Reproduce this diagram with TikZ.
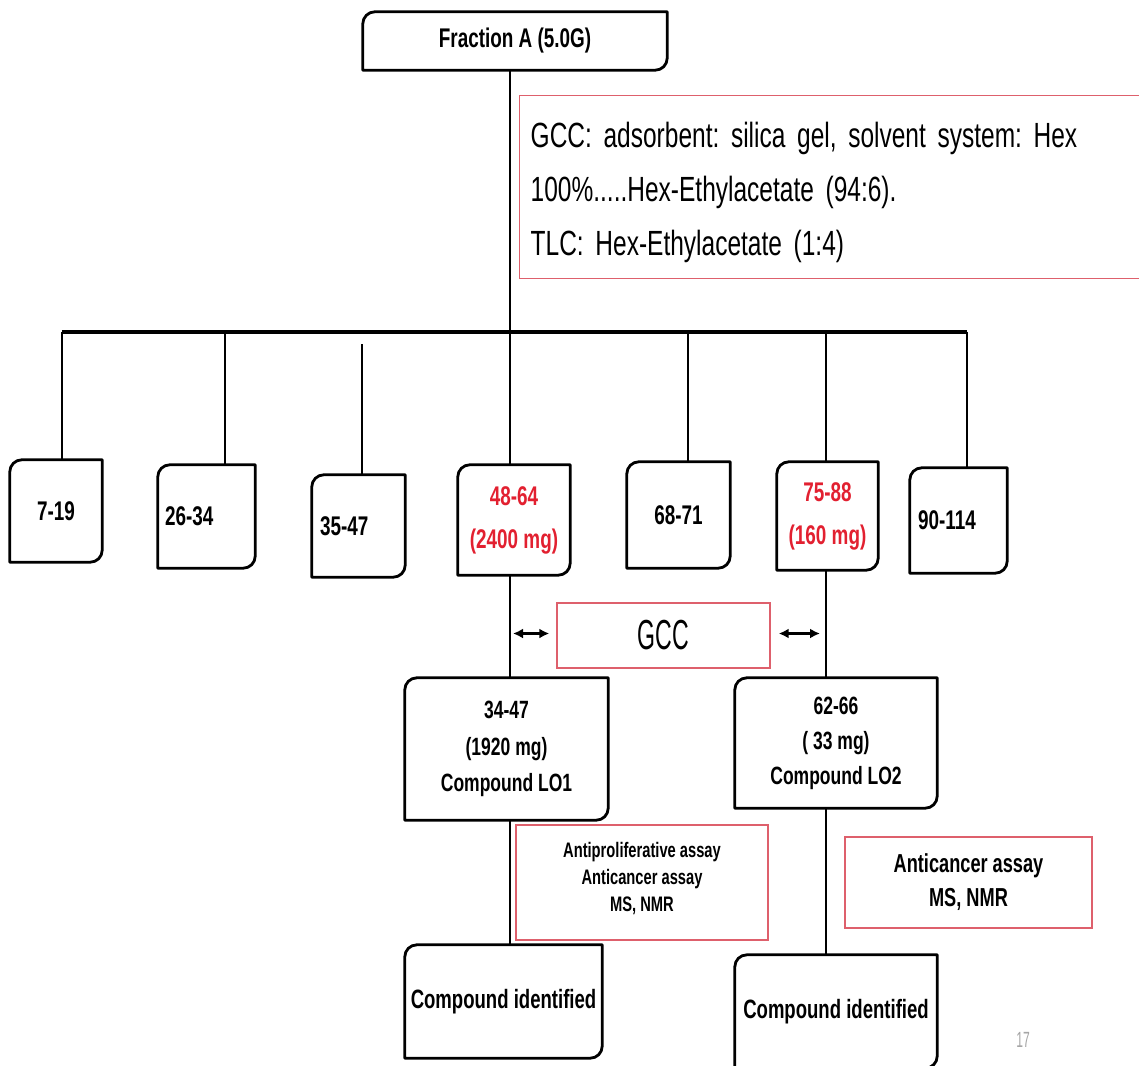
\documentclass[tikz,border=0pt]{standalone}
\usepackage{fontspec}
\setmainfont{Liberation Sans}[FakeStretch=0.7]
\newfontfamily\tallfont{Liberation Sans}[FakeStretch=0.55]
\usetikzlibrary{arrows.meta}

\definecolor{boxred}{RGB}{222,96,108}
\definecolor{txtred}{RGB}{226,32,48}
\definecolor{pagegray}{RGB}{165,165,165}

\tikzset{
    frame/.style = {line width=2.8pt, line join=round},
    conn/.style = {line width=2.7pt},
    bar/.style = {line width=3.8pt},
    dblarrow/.style = {{Latex[length=10pt, width=10pt]}-{Latex[length=10pt, width=10pt]}, line width=2.2pt},
    lbl/.style = {font=\bfseries\fontsize{27}{40}\selectfont, align=center, inner sep=0pt},
    redbox/.style = {draw=boxred, line width=1.4pt, align=center},
}

% box with rounded top left and bottom right corners
\newcommand{\cutframe}[1]{%
    \draw[frame] ([yshift=-12pt]#1.north west) arc[start angle=180, end angle=90, radius=12pt]
        -- (#1.north east) -- ([yshift=12pt]#1.south east)
        arc[start angle=0, end angle=-90, radius=12pt] -- (#1.south west) -- cycle;}

\begin{document}
\frenchspacing
\begin{tikzpicture}[x=1pt, y=1pt]

    \useasboundingbox (0, 0) rectangle (1139, -1065);

    \node (ftop) at (515, -41) [lbl, minimum width=304, minimum height=58] {Fraction A (5.0G)};
    \cutframe{ftop}

    \node (info) at (519, -95) [redbox, anchor=north west, align=left, text width=600, inner xsep=11pt,
        minimum height=183, font=\fontsize{35}{54}\selectfont]
        {\rule{0pt}{36pt}GCC: adsorbent: silica gel, solvent system: Hex\\100\%.....Hex-Ethylacetate (94:6).\\TLC: Hex-Ethylacetate (1:4)};

    % fractions
    \node (f1) at (56, -511) [lbl, minimum width=92, minimum height=102] {7-19};
    \node (f2) at (206.5, -516.5) [lbl, align=left, text width=83, minimum width=97, minimum height=103] {26-34};
    \node (f3) at (358.5, -526) [lbl, align=left, text width=77, minimum width=93, minimum height=102] {35-47};
    \node (f4) at (514, -520) [lbl, text=txtred, minimum width=112, minimum height=110,
        font=\bfseries\fontsize{27}{43}\selectfont] {48-64\\(2400 mg)};
    \node (f5) at (678.5, -515) [lbl, minimum width=103, minimum height=106] {68-71};
    \node (f6) at (827.5, -516) [lbl, text=txtred, minimum width=101, minimum height=108,
        font=\bfseries\fontsize{27}{43}\selectfont] {75-88\\(160 mg)};
    \node (f7) at (958.5, -520.5) [lbl, align=left, text width=81, minimum width=97, minimum height=105] {90-114};
    \foreach \f in {f1, f2, f3, f4, f5, f6, f7}
        \cutframe{\f};

    \coordinate (b1) at (62, -332);
    \coordinate (b2) at (225, -332);
    \coordinate (b3) at (362, -344);
    \coordinate (b4) at (510, -332);
    \coordinate (b5) at (688, -332);
    \coordinate (b6) at (826, -332);
    \coordinate (b7) at (967, -332);

    \draw [bar] (b1) -- (b7);
    \draw [conn] (b4 |- ftop.south) -- (b4 |- f4.north);
    \foreach \b/\f in {b1/f1, b2/f2, b3/f3, b5/f5, b6/f6, b7/f7}
        \draw [conn] (\b) -- (\b |- \f.north);

    % second column
    \node (gcc) at (663.5, -635.5) [redbox, minimum width=213, minimum height=65,
        font=\tallfont\fontsize{42}{42}\selectfont] {GCC};
    \coordinate (al) at (b4 |- gcc.west);
    \coordinate (ar) at (b6 |- gcc.east);
    \draw [dblarrow] ([xshift=3pt, yshift=2pt]al) -- ([xshift=-7pt, yshift=2pt]gcc.west);
    \draw [dblarrow] ([xshift=8pt, yshift=2pt]gcc.east) -- ([xshift=-6pt, yshift=2pt]ar);

    \node (c1) at (506.5, -749) [lbl, minimum width=203, minimum height=142,
        font=\bfseries\fontsize{25}{36.5}\selectfont] {34-47\\(1920 mg)\\Compound LO1};
    \node (c2) at (836, -743) [lbl, minimum width=202, minimum height=130,
        font=\bfseries\fontsize{25}{35}\selectfont] {62-66\\( 33 mg)\\Compound LO2};
    \cutframe{c1}
    \cutframe{c2}
    \draw [conn] (b4 |- f4.south) -- (b4 |- c1.north);
    \draw [conn] (b6 |- f6.south) -- (b6 |- c2.north);

    \node (a1) at (642, -882.5) [redbox, minimum width=252, minimum height=115,
        font=\bfseries\fontsize{21}{27}\selectfont] {Antiproliferative assay\\Anticancer assay\\MS, NMR\rule[-12pt]{0pt}{0pt}};
    \node (a2) at (968.5, -882.5) [redbox, minimum width=247, minimum height=91,
        font=\bfseries\fontsize{26}{34}\selectfont] {Anticancer assay\\MS, NMR};

    \node (d1) at (503.5, -1001.5) [lbl, minimum width=197, minimum height=113,
        font=\bfseries\fontsize{26.5}{30}\selectfont] {Compound identified};
    \node (d2) at (836, -1011.5) [lbl, minimum width=202, minimum height=113,
        font=\bfseries\fontsize{26.5}{30}\selectfont] {Compound identified};
    \cutframe{d1}
    \cutframe{d2}
    \draw [conn] (b4 |- c1.south) -- (b4 |- d1.north);
    \draw [conn] (b6 |- c2.south) -- (b6 |- d2.north);

    \node (pg) at (1023, -1040) [text=pagegray, font=\tallfont\fontsize{22}{22}\selectfont] {17};

\end{tikzpicture}
\end{document}
